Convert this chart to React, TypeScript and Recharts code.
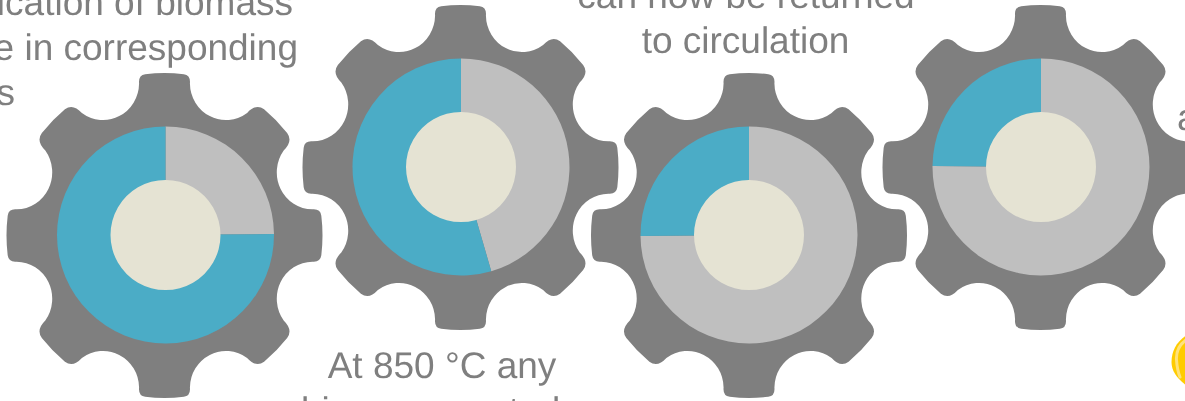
import { Pie, PieChart } from "recharts";

const WIDTH = 1185;
const HEIGHT = 401;

const GREY = "#bfbfbf";
const BLUE = "#4bacc6";
const HUB = "#e5e3d3";
const GEAR = "#7f7f7f";

// share of each ring, clockwise from twelve o'clock: grey first, then blue
const greyShare = [24.85, 45.5, 74.85, 75.15];
const blueShare = [75.15, 54.5, 25.15, 24.85];

const gearCentres = [
  { x: 165.5, y: 235, gx: 164.5, gy: 235.5 },
  { x: 461, y: 167, gx: 460.5, gy: 167.5 },
  { x: 749, y: 235, gx: 749, gy: 235.5 },
  { x: 1041, y: 167, gx: 1040.5, gy: 167.5 },
];

const captions = [
  { text: "ication of biomass", x: 293, y: 15, anchor: "end" },
  { text: "e in corresponding", x: 298, y: 60, anchor: "end" },
  { text: "s", x: 15, y: 105, anchor: "end" },
  { text: "can now be returned", x: 746, y: 8, anchor: "middle" },
  { text: "to circulation", x: 745.5, y: 53, anchor: "middle" },
  { text: "At 850 °C any", x: 442, y: 378, anchor: "middle" },
  { text: "biomass control", x: 301, y: 423, anchor: "start" },
  { text: "a", x: 1177, y: 130, anchor: "start" },
];

const TEETH = 8;
const TIP_R = 158;
const SCOOP_CENTRE_R = 160.5;
const SCOOP_R = 36;
const Y_STRETCH = 162.5 / 158;

// angle off the scoop centre at which a circle of radius r meets the scoop
function scoopOffset(r: number) {
  const c =
    (r * r + SCOOP_CENTRE_R * SCOOP_CENTRE_R - SCOOP_R * SCOOP_R) /
    (2 * r * SCOOP_CENTRE_R);
  return Math.acos(c);
}

function gearPath(cx: number, cy: number) {
  const pt = (r: number, a: number) =>
    `${(cx + r * Math.sin(a)).toFixed(2)} ${(cy - r * Y_STRETCH * Math.cos(a)).toFixed(2)}`;
  const half = Math.PI / TEETH;
  const corner = half - scoopOffset(TIP_R);
  let d = "";
  for (let i = 0; i < TEETH; i++) {
    // the diagonal teeth have softer, more tapered tips
    const drop = i % 2 ? 13 : 8;
    const flat = corner - (i % 2 ? 10 : 7) / TIP_R;
    const shoulder = half - scoopOffset(TIP_R - drop);
    const a = (i * 2 * Math.PI) / TEETH;
    const next = a + (2 * Math.PI) / TEETH;
    const nextDrop = i % 2 ? 8 : 13;
    const nextShoulder = half - scoopOffset(TIP_R - nextDrop);
    d += `${i === 0 ? "M" : "L"} ${pt(TIP_R - drop, a - shoulder)} `;
    d += `Q ${pt(TIP_R, a - corner)} ${pt(TIP_R, a - flat)} `;
    d += `A ${TIP_R} ${TIP_R * Y_STRETCH} 0 0 1 ${pt(TIP_R, a + flat)} `;
    d += `Q ${pt(TIP_R, a + corner)} ${pt(TIP_R - drop, a + shoulder)} `;
    d += `A ${SCOOP_R} ${SCOOP_R * Y_STRETCH} 0 0 0 ${pt(TIP_R - nextDrop, next - nextShoulder)} `;
  }
  return d + "Z";
}

export default function App() {
  return (
    <div
      style={{
        position: "fixed",
        left: 0,
        top: 0,
        width: WIDTH,
        height: HEIGHT,
        overflow: "hidden",
        willChange: "transform",
      }}
    >
      <PieChart
        width={WIDTH}
        height={HEIGHT}
        margin={{ top: 0, right: 0, bottom: 0, left: 0 }}
      >
        {gearCentres.map((c, i) => (
          <path key={`gear-${i}`} d={gearPath(c.gx, c.gy)} fill={GEAR} />
        ))}

        {gearCentres.map((c, i) => (
          <Pie
            key={`ring-${i}`}
            data={[
              { name: "grey", value: greyShare[i], fill: GREY },
              { name: "blue", value: blueShare[i], fill: BLUE },
            ]}
            dataKey="value"
            cx={c.x}
            cy={c.y}
            innerRadius={50}
            outerRadius={108.5}
            startAngle={90}
            endAngle={-270}
            stroke="none"
            isAnimationActive={false}
          />
        ))}

        {gearCentres.map((c, i) => (
          <Pie
            key={`hub-${i}`}
            data={[{ name: "hub", value: 1, fill: HUB }]}
            dataKey="value"
            cx={c.x}
            cy={c.y}
            innerRadius={0}
            outerRadius={55}
            stroke="none"
            isAnimationActive={false}
          />
        ))}

        {captions.map((t) => (
          <text
            key={t.text}
            x={t.x}
            y={t.y}
            textAnchor={t.anchor as "start" | "middle" | "end"}
            textRendering="geometricPrecision"
            fontFamily="'Liberation Sans', Arial, sans-serif"
            fontSize={37}
            fill={GEAR}
          >
            {t.text}
          </text>
        ))}

        {/* yellow bulb running off the right edge */}
        <path
          d="M 1187 335 C 1177 341 1171.5 351 1171.5 362 C 1171.5 372 1178 379 1187 386 Z"
          fill="#ffcc00"
        />
        <path
          d="M 1186 340 C 1179 345 1176 352 1176.5 360 C 1177 367 1178 372 1180 377"
          fill="none"
          stroke="#ffe27a"
          strokeWidth={3}
          strokeLinecap="round"
        />
      </PieChart>
    </div>
  );
}
